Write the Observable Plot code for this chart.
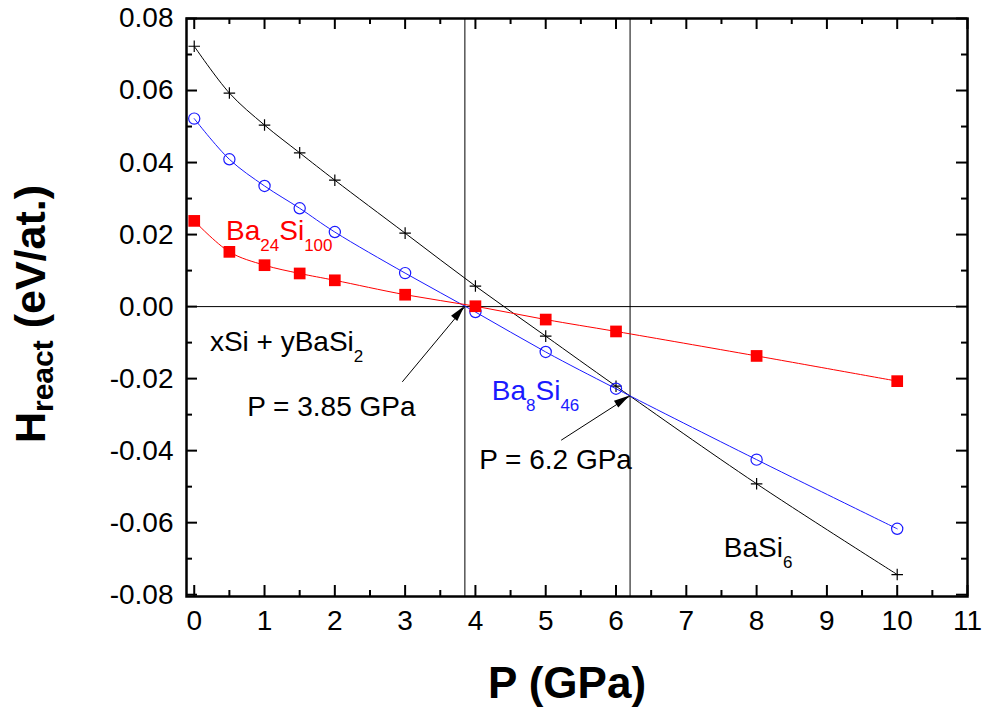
<!DOCTYPE html>
<html>
<head>
<meta charset="utf-8">
<script src="https://cdn.jsdelivr.net/npm/d3@7"></script>
<script src="https://cdn.jsdelivr.net/npm/@observablehq/plot@0.6"></script>
<style>
  html, body { margin: 0; padding: 0; background: #fff; }
  #chart { width: 983px; height: 715px; }
</style>
</head>
<body>
<div id="chart"></div>
<script>
// Reaction enthalpy of Ba–Si phases versus pressure
const pressures = [0, 0.5, 1, 1.5, 2, 3, 4, 5, 6, 8, 10];
const hBaSi6    = [0.0723, 0.0593, 0.0504, 0.0427, 0.0351, 0.0204, 0.0057, -0.0082, -0.0221, -0.0492, -0.0744];
const hBa8Si46  = [0.0522, 0.0409, 0.0335, 0.0273, 0.0207, 0.0093, -0.0015, -0.0126, -0.0228, -0.0425, -0.0617];
const hBa24Si100 = [0.0238, 0.0152, 0.0115, 0.0092, 0.0073, 0.0033, 0.0001, -0.0036, -0.0069, -0.0137, -0.0207];

// Transition pressures (GPa)
const transitions = [3.85, 6.2];

// Axis ticks
const pTicks  = [0, 1, 2, 3, 4, 5, 6, 7, 8, 9, 10, 11];
const pMinor  = [0.5, 1.5, 2.5, 3.5, 4.5, 5.5, 6.5, 7.5, 8.5, 9.5, 10.5];
const hTicks  = [-0.08, -0.06, -0.04, -0.02, 0, 0.02, 0.04, 0.06, 0.08];
const hMinor  = [-0.07, -0.05, -0.03, -0.01, 0.01, 0.03, 0.05, 0.07];

// Arrows pointing at the transition points
const arrowFromP = [2.96, 5.22];
const arrowFromH = [-0.0209, -0.0371];
const arrowToP   = [3.85, 6.2];
const arrowToH   = [0, -0.0248];

// In-plot labels: [text, subscript] pieces, anchored at (P, H)
const labelParts = [
  [["Ba", "24"], ["Si", "100"]],
  [["xSi + yBaSi", "2"]],
  [["P = 3.85 GPa", ""]],
  [["Ba", "8"], ["Si", "46"]],
  [["P = 6.2 GPa", ""]],
  [["BaSi", "6"]]
];
const labelP = [0.46, 0.23, 0.76, 4.24, 4.06, 7.54];
const labelH = [0.0184, -0.0126, -0.0305, -0.0261, -0.0451, -0.0697];
const labelColor = ["#ff0000", "#000000", "#000000", "#1a1aff", "#000000", "#000000"];

const phases = [
  {name: "BaSi6", values: hBaSi6, color: "#000000", symbol: "plus", r: 3.8, fill: "none"},
  {name: "Ba8Si46", values: hBa8Si46, color: "#1a1aff", symbol: "circle", r: 5.6, fill: "none"},
  {name: "Ba24Si100", values: hBa24Si100, color: "#ff0000", symbol: "square", r: 6.6, fill: "#ff0000"}
];

const W = 983, H = 715;
const mL = 186, mR = 16, mT = 18, mB = 119;
const innerW = W - mL - mR, innerH = H - mT - mB;
const majorLen = 11, minorLen = 6;

const arrows = arrowFromP.map((p, i) => ({x1: p, y1: arrowFromH[i], x2: arrowToP[i], y2: arrowToH[i]}));

const fmtH = d => (d < 0 ? "-" : "") + Math.abs(d).toFixed(2);

const seriesMarks = phases.flatMap(s => {
  const rows = pressures.map((p, i) => ({p, h: s.values[i]}));
  return [
    Plot.line(rows, {x: "p", y: "h", stroke: s.color, strokeWidth: 1, curve: "catmull-rom"}),
    Plot.dot(rows, {x: "p", y: "h", symbol: s.symbol, r: s.r,
      stroke: s.color, fill: s.fill, strokeWidth: s.symbol === "square" ? 0 : 1.2})
  ];
});

const tickMarks = [
  Plot.tickX(pTicks, {x: d => d, insetTop: innerH - majorLen, stroke: "black", strokeWidth: 2}),
  Plot.tickX(pMinor, {x: d => d, insetTop: innerH - minorLen, stroke: "black", strokeWidth: 2}),
  Plot.tickX(pTicks, {x: d => d, insetBottom: innerH - majorLen, stroke: "black", strokeWidth: 2}),
  Plot.tickX(pMinor, {x: d => d, insetBottom: innerH - minorLen, stroke: "black", strokeWidth: 2}),
  Plot.tickY(hTicks, {y: d => d, insetRight: innerW - majorLen, stroke: "black", strokeWidth: 2}),
  Plot.tickY(hMinor, {y: d => d, insetRight: innerW - minorLen, stroke: "black", strokeWidth: 2}),
  Plot.tickY(hTicks, {y: d => d, insetLeft: innerW - majorLen, stroke: "black", strokeWidth: 2}),
  Plot.tickY(hMinor, {y: d => d, insetLeft: innerW - minorLen, stroke: "black", strokeWidth: 2})
];

const chart = Plot.plot({
  width: W,
  height: H,
  marginLeft: mL,
  marginRight: mR,
  marginTop: mT,
  marginBottom: mB,
  style: {fontFamily: "'Liberation Sans', Arial, sans-serif", color: "black", background: "white"},
  x: {domain: [-0.11, 11]},
  y: {domain: [-0.0805, 0.08]},
  marks: [
    Plot.ruleY([0], {stroke: "black", strokeWidth: 1}),
    Plot.ruleX(transitions, {stroke: "black", strokeWidth: 1}),
    ...seriesMarks,
    Plot.link(arrows, {x1: "x1", y1: "y1", x2: "x2", y2: "y2", stroke: "black", strokeWidth: 1}),
    ...tickMarks,
    Plot.axisX(pTicks, {tickSize: 0, tickPadding: 14, fontSize: 28, label: null}),
    Plot.axisY(hTicks, {tickSize: 0, tickPadding: 13, fontSize: 28, tickFormat: fmtH, label: null}),
    Plot.frame({stroke: "black", strokeWidth: 2.5})
  ]
});

document.getElementById("chart").appendChild(chart);

const svg = d3.select(chart);
const xs = chart.scale("x"), ys = chart.scale("y");

// Filled arrowheads at the tips of the transition arrows
const headLen = 16, headHalf = 4;
arrows.forEach(a => {
  const x1 = xs.apply(a.x1), y1 = ys.apply(a.y1);
  const x2 = xs.apply(a.x2), y2 = ys.apply(a.y2);
  const ang = Math.atan2(y2 - y1, x2 - x1);
  const bx = x2 - headLen * Math.cos(ang), by = y2 - headLen * Math.sin(ang);
  const nx = -Math.sin(ang) * headHalf, ny = Math.cos(ang) * headHalf;
  svg.append("path")
    .attr("d", `M${x2},${y2}L${bx + nx},${by + ny}L${bx - nx},${by - ny}Z`)
    .attr("fill", "black");
});

// Labels with subscripts, placed through the chart's own scales
const subShift = 11;
labelParts.forEach((parts, i) => {
  const t = svg.append("text")
    .attr("x", xs.apply(labelP[i]))
    .attr("y", ys.apply(labelH[i]))
    .attr("text-anchor", "start")
    .attr("fill", labelColor[i])
    .attr("font-size", 28);
  parts.forEach(([main, sub], j) => {
    t.append("tspan").attr("dy", j ? -subShift : 0).text(main);
    t.append("tspan").attr("dy", subShift).attr("font-size", 17).text(sub);
  });
});

// Axis titles
svg.append("text")
  .attr("x", 567).attr("y", 698)
  .attr("text-anchor", "middle")
  .attr("font-size", 44).attr("font-weight", "bold")
  .text("P (GPa)");

const yTitle = svg.append("text")
  .attr("transform", "translate(45,314) rotate(-90)")
  .attr("text-anchor", "middle")
  .attr("font-size", 43).attr("font-weight", "bold");
yTitle.append("tspan").text("H");
yTitle.append("tspan").attr("dy", 8).attr("font-size", 30).text("react");
yTitle.append("tspan").attr("dy", -8).text(" (eV/at.)");
</script>
</body>
</html>
